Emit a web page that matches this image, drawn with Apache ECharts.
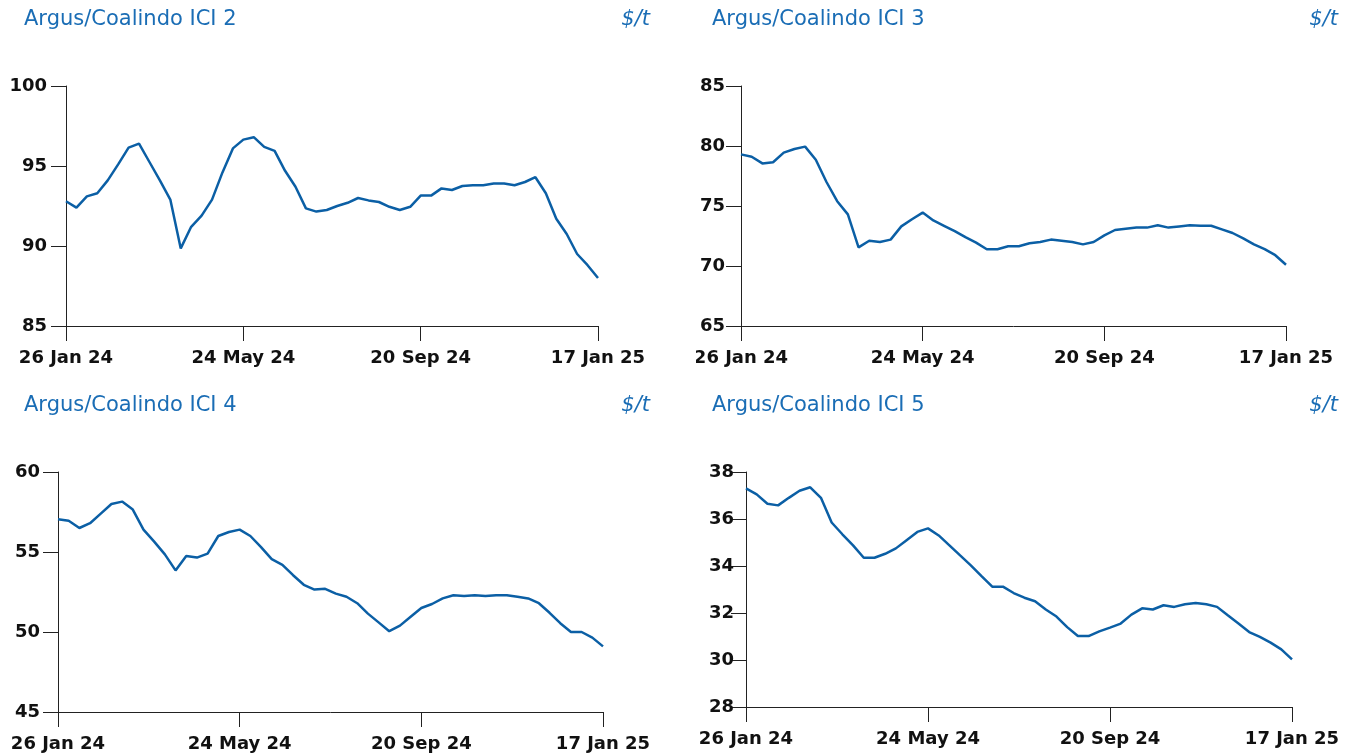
<!DOCTYPE html>
<html>
<head>
<meta charset="utf-8">
<title>Argus/Coalindo ICI</title>
<script src="https://cdn.jsdelivr.net/npm/echarts@6/dist/echarts.min.js"></script>
<style>
  html, body { margin: 0; padding: 0; background: #fff; }
  .panel { position: absolute; }
</style>
</head>
<body>
<div id="ici2" class="panel" style="left:0;top:0;width:680px;height:380px"></div>
<div id="ici3" class="panel" style="left:696px;top:0;width:658px;height:380px"></div>
<div id="ici4" class="panel" style="left:0;top:380px;width:680px;height:375px"></div>
<div id="ici5" class="panel" style="left:690px;top:380px;width:664px;height:375px"></div>
<script>
// weekly assessments, 26 Jan 24 .. 17 Jan 25
var ici2 = [92.8, 92.4, 93.1, 93.3, 94.1, 95.1, 96.15, 96.4, 95.25, 94.1,
  92.9, 89.85, 91.2, 91.9, 92.9, 94.6, 96.1, 96.65, 96.8, 96.2,
  95.95, 94.7, 93.7, 92.35, 92.15, 92.25, 92.5, 92.7, 93.0, 92.85,
  92.75, 92.45, 92.25, 92.45, 93.15, 93.15, 93.6, 93.5, 93.75, 93.8,
  93.8, 93.9, 93.9, 93.8, 94.0, 94.3, 93.3, 91.7, 90.75, 89.5,
  88.8, 88.0];
var ici3 = [79.3, 79.1, 78.55, 78.65, 79.45, 79.75, 79.95, 78.85, 77.0, 75.4,
  74.3, 71.55, 72.1, 72.0, 72.2, 73.3, 73.9, 74.45, 73.8, 73.35,
  72.9, 72.4, 71.95, 71.4, 71.4, 71.65, 71.65, 71.9, 72.0, 72.2,
  72.1, 72.0, 71.8, 72.0, 72.55, 73.0, 73.1, 73.2, 73.2, 73.4,
  73.2, 73.3, 73.4, 73.35, 73.35, 73.05, 72.75, 72.3, 71.8, 71.4,
  70.9, 70.1];
var ici4 = [57.05, 56.95, 56.5, 56.8, 57.4, 58.0, 58.15, 57.65, 56.4, 55.65,
  54.85, 53.85, 54.75, 54.65, 54.9, 56.0, 56.25, 56.4, 56.0, 55.3,
  54.55, 54.2, 53.55, 52.95, 52.65, 52.7, 52.4, 52.2, 51.8, 51.15,
  50.6, 50.05, 50.4, 50.95, 51.5, 51.75, 52.1, 52.3, 52.25, 52.3,
  52.25, 52.3, 52.3, 52.2, 52.1, 51.8, 51.2, 50.55, 50.0, 50.0,
  49.65, 49.1];
var ici5 = [37.3, 37.05, 36.65, 36.58, 36.9, 37.2, 37.35, 36.9, 35.85, 35.35,
  34.88, 34.35, 34.35, 34.52, 34.75, 35.1, 35.45, 35.6, 35.3, 34.88,
  34.45, 34.03, 33.57, 33.12, 33.12, 32.85, 32.65, 32.5, 32.15, 31.85,
  31.4, 31.02, 31.02, 31.22, 31.38, 31.55, 31.93, 32.2, 32.15, 32.33,
  32.26, 32.37, 32.43, 32.37, 32.26, 31.9, 31.55, 31.19, 30.98, 30.74,
  30.45, 30.03];

var months = ["Jan", "Feb", "Mar", "Apr", "May", "Jun", "Jul", "Aug", "Sep", "Oct", "Nov", "Dec"];
var dates = [];
for (var i = 0; i < 52; i++) {
  var d = new Date(Date.UTC(2024, 0, 26 + i * 7));
  dates.push(d.getUTCDate() + " " + months[d.getUTCMonth()] + " " + String(d.getUTCFullYear()).slice(2));
}

var blue = "#0b5fa5";
var titleBlue = "#1a6db5";
var axisColor = "#222";

function makeOption(p) {
  var grid = Object.assign({ outerBoundsMode: "none", containLabel: false }, p.grid);
  return {
    animation: false,
    graphic: [
      { type: "text", left: p.titleX, top: p.titleY,
        style: { text: p.title, fill: titleBlue, font: "21px 'DejaVu Sans'" } },
      { type: "text", right: p.unitRight, top: p.titleY,
        style: { text: "$/t", fill: titleBlue, font: "italic 21px 'DejaVu Sans'" } },
    ],
    grid: grid,
    xAxis: {
      type: "category",
      data: dates,
      boundaryGap: false,
      axisLine: { lineStyle: { color: axisColor, width: 1 } },
      axisTick: { interval: 16, length: 15, lineStyle: { color: axisColor } },
      axisLabel: {
        interval: 16,
        margin: 23,
        color: "#111",
        fontFamily: "DejaVu Sans",
        fontWeight: "bold",
        fontSize: 18,
      },
      splitLine: { show: false },
    },
    yAxis: {
      type: "value",
      min: p.min,
      max: p.max,
      interval: p.interval,
      axisLine: { show: true, lineStyle: { color: axisColor, width: 1 } },
      axisTick: { show: true, length: 15, lineStyle: { color: axisColor } },
      axisLabel: {
        margin: p.labelMargin,
        color: "#111",
        fontFamily: "DejaVu Sans",
        fontWeight: "bold",
        fontSize: 18,
      },
      splitLine: { show: false },
    },
    series: [
      {
        type: "line",
        data: p.data,
        symbol: "none",
        lineStyle: { color: blue, width: 2.5 },
      },
    ],
  };
}

var panels = [
  { id: "ici2", title: "Argus/Coalindo ICI 2", data: ici2, min: 85, max: 100, interval: 5,
    titleX: 24, titleY: 9, unitRight: 30, labelMargin: 19,
    grid: { left: 66, right: 82, top: 86, bottom: 54 } },
  { id: "ici3", title: "Argus/Coalindo ICI 3", data: ici3, min: 65, max: 85, interval: 5,
    titleX: 16, titleY: 9, unitRight: 16, labelMargin: 16,
    grid: { left: 45, right: 68, top: 86, bottom: 54 } },
  { id: "ici4", title: "Argus/Coalindo ICI 4", data: ici4, min: 45, max: 60, interval: 5,
    titleX: 24, titleY: 15, unitRight: 30, labelMargin: 18,
    grid: { left: 58, right: 77, top: 92, bottom: 43 } },
  { id: "ici5", title: "Argus/Coalindo ICI 5", data: ici5, min: 28, max: 38, interval: 2,
    titleX: 22, titleY: 15, unitRight: 16, labelMargin: 12,
    grid: { left: 56, right: 62, top: 92, bottom: 48 } },
];

panels.forEach(function (p) {
  var chart = echarts.init(document.getElementById(p.id));
  chart.setOption(makeOption(p));
});
</script>
</body>
</html>
